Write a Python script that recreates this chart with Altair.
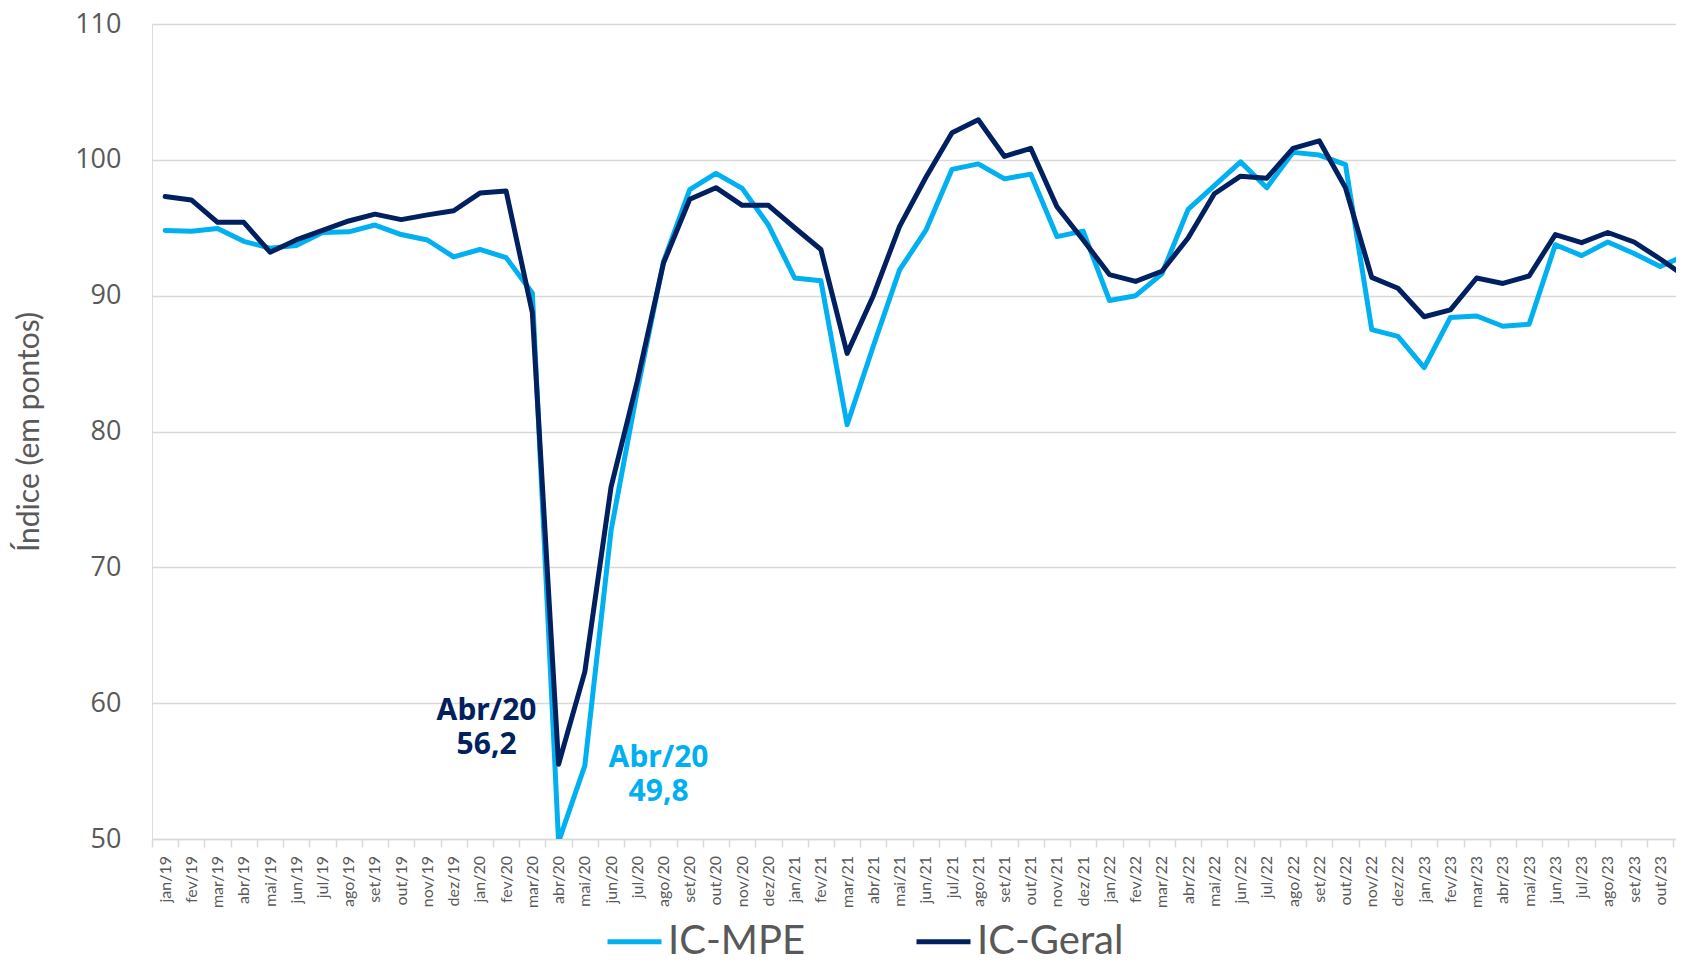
import altair as alt
import pandas as pd

months = [
    "jan/19", "fev/19", "mar/19", "abr/19", "mai/19", "jun/19", "jul/19", "ago/19", "set/19", "out/19", "nov/19", "dez/19",
    "jan/20", "fev/20", "mar/20", "abr/20", "mai/20", "jun/20", "jul/20", "ago/20", "set/20", "out/20", "nov/20", "dez/20",
    "jan/21", "fev/21", "mar/21", "abr/21", "mai/21", "jun/21", "jul/21", "ago/21", "set/21", "out/21", "nov/21", "dez/21",
    "jan/22", "fev/22", "mar/22", "abr/22", "mai/22", "jun/22", "jul/22", "ago/22", "set/22", "out/22", "nov/22", "dez/22",
    "jan/23", "fev/23", "mar/23", "abr/23", "mai/23", "jun/23", "jul/23", "ago/23", "set/23", "out/23", "nov/23",
]

ic_mpe = [
    94.8, 94.75, 94.95, 94.0, 93.5, 93.7, 94.65, 94.7, 95.2, 94.5, 94.1, 92.85,
    93.4, 92.8, 90.2, 49.8, 55.4, 72.7, 83.0, 92.5, 97.8, 99.0, 97.9, 95.2,
    91.3, 91.1, 80.5, 86.3, 91.9, 94.8, 99.3, 99.7, 98.6, 98.95, 94.35, 94.75,
    89.65, 90.0, 91.6, 96.35, 98.1, 99.85, 97.95, 100.55, 100.35, 99.65, 87.5, 87.0,
    84.7, 88.4, 88.5, 87.75, 87.9, 93.75, 92.95, 93.95, 93.1, 92.15, 93.0,
]

ic_geral = [
    97.3, 97.05, 95.4, 95.4, 93.2, 94.1, 94.8, 95.5, 96.0, 95.6, 95.95, 96.25,
    97.55, 97.7, 88.75, 55.5, 62.3, 75.9, 83.7, 92.4, 97.1, 97.95, 96.65, 96.65,
    95.0, 93.4, 85.75, 90.0, 95.1, 98.7, 102.0, 102.95, 100.25, 100.85, 96.55, 94.1,
    91.55, 91.05, 91.8, 94.25, 97.5, 98.8, 98.65, 100.85, 101.4, 97.95, 91.35, 90.55,
    88.45, 88.95, 91.3, 90.9, 91.45, 94.5, 93.9, 94.65, 93.95, 92.7, 91.35,
]

series_names = ["IC-MPE", "IC-Geral"]
series_colors = ["#00b0f0", "#002060"]

ann_month = ["abr/20", "abr/20"]
ann_value = [56.2, 49.8]
ann_series = ["IC-Geral", "IC-MPE"]
ann_text = [["Abr/20", "56,2"], ["Abr/20", "49,8"]]

y_ticks = [50, 60, 70, 80, 90, 100, 110]

rows = []
for i, m in enumerate(months):
    rows.append({"idx": i, "mes": m, "serie": "IC-MPE", "valor": ic_mpe[i]})
    rows.append({"idx": i, "mes": m, "serie": "IC-Geral", "valor": ic_geral[i]})
df = pd.DataFrame(rows)

ann_df = pd.DataFrame({
    "idx": [months.index(m) for m in ann_month],
    "valor": ann_value,
    "serie": ann_series,
    "texto": ann_text,
})

label_array = "[" + ",".join("'" + m + "'" for m in months) + "]"
label_expr = label_array + "[round(datum.value + 0.5)]"
tick_vals = [i - 0.5 for i in range(len(months))]

GRAY = "#595959"
LIGHT = "#d9d9d9"

x_axis = alt.Axis(
    title=None,
    values=tick_vals,
    tickCount=len(tick_vals),
    labelExpr=label_expr,
    labelAngle=270,
    labelAlign="right",
    labelBaseline="middle",
    labelOffset=13.1,
    labelPadding=8.5,
    labelFont="Lato",
    labelFontSize=16,
    labelColor=GRAY,
    labelOverlap=False,
    labelSeparation=0,
    labelFlush=False,
    labelBound=False,
    tickSize=8,
    tickColor=LIGHT,
    tickWidth=1.5,
    domainColor=LIGHT,
    domainWidth=1.5,
    grid=False,
)

x_scale = alt.Scale(domain=[-0.5, 57.6], nice=False, zero=False)

y_axis = alt.Axis(
    title="Índice (em pontos)",
    titleFont="Lato",
    titleFontSize=30,
    titleFontWeight="normal",
    titleColor=GRAY,
    titleAngle=270,
    titleAlign="center",
    titleBaseline="middle",
    titleX=-123,
    titleY=407.5,
    values=y_ticks,
    labelFont="Open Sans",
    labelFontSize=27,
    labelColor=GRAY,
    labelPadding=31,
    ticks=False,
    domain=False,
    grid=True,
    gridColor=LIGHT,
    gridWidth=1.5,
)

y_scale = alt.Scale(domain=[50, 110], nice=False, zero=False)

x_enc = alt.X("idx:Q", scale=x_scale, axis=x_axis)
y_enc = alt.Y("valor:Q", scale=y_scale, axis=y_axis)

color_enc = alt.Color(
    "serie:N",
    scale=alt.Scale(domain=series_names, range=series_colors),
    legend=alt.Legend(
        title=None,
        orient="none",
        direction="horizontal",
        legendX=453,
        legendY=888,
        symbolType="stroke",
        symbolSize=2916,
        symbolStrokeWidth=5,
        labelFont="Lato",
        labelFontSize=40,
        labelColor=GRAY,
        labelOffset=4,
        columnPadding=100,
        labelLimit=400,
    ),
)

base = alt.Chart(df)

line_mpe = base.transform_filter(alt.datum.serie == "IC-MPE").mark_line(
    strokeWidth=5, strokeJoin="round", strokeCap="round", clip=True
).encode(x=x_enc, y=y_enc, color=color_enc, order="idx:Q")

line_geral = base.transform_filter(alt.datum.serie == "IC-Geral").mark_line(
    strokeWidth=5, strokeJoin="round", strokeCap="round", clip=True
).encode(x=x_enc, y=y_enc, color=color_enc, order="idx:Q")

ann_geral = alt.Chart(ann_df).transform_filter(alt.datum.serie == "IC-Geral").mark_text(
    font="Noto Sans", fontSize=30, fontWeight="bold", color="#002060",
    align="center", baseline="alphabetic", lineHeight=34, dx=-72, dy=-35,
).encode(x=x_enc, y=y_enc, text="texto")

ann_mpe = alt.Chart(ann_df).transform_filter(alt.datum.serie == "IC-MPE").mark_text(
    font="Noto Sans", fontSize=30, fontWeight="bold", color="#00b0f0",
    align="center", baseline="alphabetic", lineHeight=34, dx=100, dy=-75,
).encode(x=x_enc, y=y_enc, text="texto")

chart = alt.layer(line_mpe, line_geral, ann_geral, ann_mpe).properties(
    width=1524,
    height=815,
    autosize=alt.AutoSizeParams(type="none"),
    padding={"left": 144, "top": 16, "right": 0, "bottom": 120},
).configure_view(stroke=None).configure(background="white")

chart.save("out.html", embed_options={"renderer": "svg", "actions": False})
